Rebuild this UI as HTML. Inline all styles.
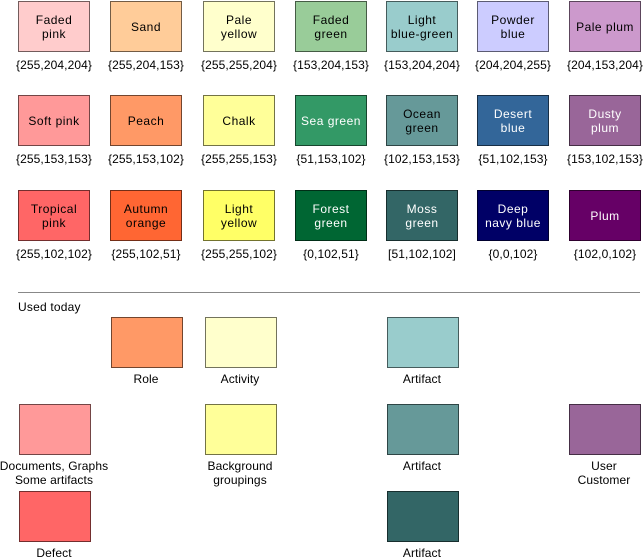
<!DOCTYPE html>
<html><head><meta charset="utf-8"><style>
body{margin:0;width:644px;height:560px;background:#fff;position:relative;overflow:hidden;font-family:"Liberation Sans",sans-serif;font-size:12px;color:#000}
.sw{position:absolute;width:72px;height:51px;box-sizing:border-box;border:1px solid rgba(0,0,0,0.55);display:flex;align-items:center;justify-content:center;text-align:center;line-height:14px;letter-spacing:0.5px}
.lb{position:absolute;width:130px;text-align:center;line-height:14px;letter-spacing:0.1px}
</style></head><body>
<div id="root"></div>
<script>
const names=[["Faded<br>pink","Sand","Pale<br>yellow","Faded<br>green","Light<br>blue-green","Powder<br>blue","Pale plum"],
["Soft  pink","Peach","Chalk","Sea green","Ocean<br>green","Desert<br>blue","Dusty<br>plum"],
["Tropical<br>pink","Autumn<br>orange","Light<br>yellow","Forest<br>green","Moss<br>green","Deep<br>navy blue","Plum"]];
const rgbs=[[[255,204,204],[255,204,153],[255,255,204],[153,204,153],[153,204,204],[204,204,255],[204,153,204]],
[[255,153,153],[255,153,102],[255,255,153],[51,153,102],[102,153,153],[51,102,153],[153,102,153]],
[[255,102,102],[255,102,51],[255,255,102],[0,102,51],[51,102,102],[0,0,102],[102,0,102]]];
const colX=[18,110,203,295,386,477,569];
const rowY=[1,95,190];
const root=document.body;
function sw(x,y,c,html,name){const d=document.createElement('div');d.className='sw';d.style.left=x+'px';d.style.top=y+'px';
d.style.background='rgb('+c.join(',')+')';const lum=c[0]*0.3+c[1]*0.59+c[2]*0.11;d.style.color=lum<130?'#fff':'#000';d.innerHTML=html;


root.appendChild(d);}
function lb(x,y,html,name){const d=document.createElement('div');d.className='lb';d.style.left=(x+36-65)+'px';d.style.top=y+'px';d.innerHTML=html;


root.appendChild(d);}
for(let r=0;r<3;r++)for(let c=0;c<7;c++){
 sw(colX[c],rowY[r],rgbs[r][c],names[r][c],'swatch-r'+r+'-c'+c);
 const v=rgbs[r][c];
 lb(colX[c],rowY[r]+57,(r==2&&c==4?'[':'{')+v.join(',')+(r==2&&c==4?']':'}'),'rgb-label-r'+r+'-c'+c);
}
const hr=document.createElement('div');hr.style.cssText='position:absolute;left:18px;top:292px;width:622px;height:1px;background:#888';


root.appendChild(hr);
const t=document.createElement('div');t.style.cssText='position:absolute;left:18px;top:300px;letter-spacing:0.2px';t.textContent='Used today';


root.appendChild(t);
const used=[[111,317,[255,153,102],'Role'],[205,317,[255,255,204],'Activity'],[387,317,[153,204,204],'Artifact'],
[19,404,[255,153,153],'Documents, Graphs<br>Some artifacts'],[205,404,[255,255,153],'Background<br>groupings'],[387,404,[102,153,153],'Artifact'],[569,404,[153,102,153],'User<br>Customer'],
[19,491,[255,102,102],'Defect'],[387,491,[51,102,102],'Artifact']];
used.forEach((u,i)=>{sw(u[0],u[1],u[2],'','used-swatch-'+i);lb(u[0]-1,u[1]+55,u[3],'used-label-'+i);});
</script>
</body></html>
